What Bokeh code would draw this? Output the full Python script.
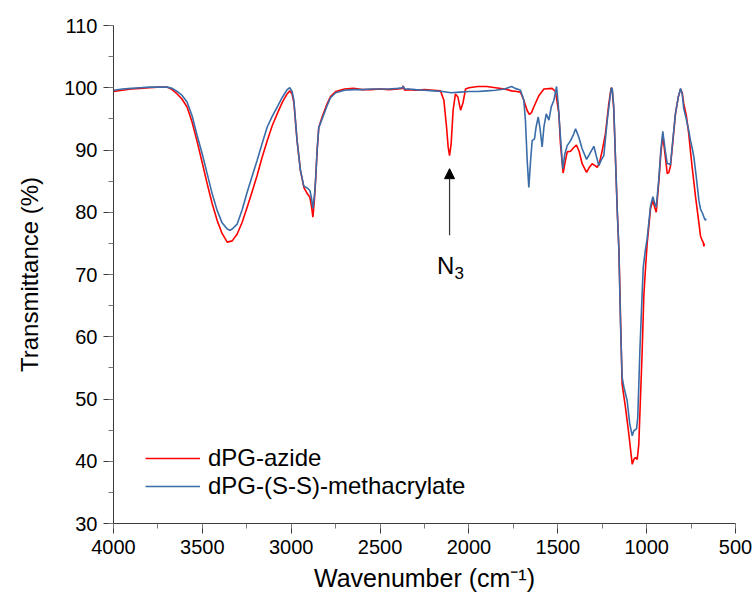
from bokeh.plotting import figure
from bokeh.models import Range1d, Legend, LegendItem, Arrow, NormalHead, Label, FixedTicker
from bokeh.embed import file_html
from bokeh.resources import INLINE

# ---------------- data ----------------
azide_wn = [4000, 3950, 3900, 3850, 3800, 3750, 3698, 3670, 3642, 3615, 3586, 3558, 3529, 3501,
            3473, 3445, 3417, 3389, 3360, 3332, 3304, 3276, 3248, 3220, 3192, 3164, 3135, 3107,
            3079, 3051, 3023, 3008, 2995, 2985, 2967, 2948, 2929, 2910, 2895, 2886, 2878, 2870,
            2863, 2854, 2845, 2826, 2800, 2779, 2750, 2700, 2650, 2600, 2550, 2500, 2450, 2400,
            2375, 2370, 2362, 2340, 2300, 2250, 2200, 2160, 2141, 2126, 2117, 2109, 2100, 2089,
            2076, 2062, 2047, 2034, 2019, 2000, 1950, 1900, 1850, 1800, 1760, 1730, 1710, 1691,
            1672, 1659, 1648, 1635, 1607, 1578, 1532, 1513, 1494, 1485, 1470, 1457, 1447, 1428,
            1410, 1395, 1380, 1363, 1338, 1325, 1307, 1290, 1278, 1265, 1250, 1232, 1213, 1200,
            1194, 1185, 1175, 1165, 1156, 1147, 1138, 1119, 1100, 1081, 1072, 1063, 1053, 1044,
            1035, 1025, 1016, 1006, 997, 978, 965, 955, 946, 931, 920, 909, 896, 884, 875, 866,
            852, 838, 822, 809, 800, 791, 777, 763, 753, 743, 734, 725, 715, 706, 697, 688, 682,
            678, 675]
azide_t = [99.4, 99.6, 99.8, 99.9, 100.0, 100.1, 100.1, 99.7, 99.0, 98.2, 96.9, 94.5, 91.3, 88.0,
           84.6, 81.4, 78.7, 76.6, 75.2, 75.4, 76.5, 78.4, 80.8, 83.3, 85.9, 88.8, 91.5, 93.9,
           95.8, 97.6, 99.0, 99.5, 99.0, 97.6, 91.5, 86.7, 84.0, 83.0, 82.4, 81.0, 79.2, 81.8,
           85.1, 90.0, 93.6, 95.3, 97.3, 98.6, 99.4, 99.8, 99.9, 99.7, 99.7, 99.8, 99.7, 99.8,
           99.9, 100.3, 99.6, 99.7, 99.6, 99.7, 99.6, 99.5, 98.0, 93.7, 90.5, 89.1, 91.0, 96.4,
           99.0, 98.5, 96.4, 97.5, 99.8, 100.0, 100.2, 100.2, 100.0, 99.8, 99.5, 99.4, 99.3, 98.0,
           96.3, 95.7, 96.0, 96.9, 98.7, 99.8, 99.9, 99.4, 95.9, 91.0, 86.3, 88.3, 89.7, 89.8,
           90.4, 90.8, 89.8, 87.8, 86.4, 87.1, 87.8, 87.5, 87.2, 88.0, 89.9, 92.6, 97.4, 100.0,
           99.8, 96.5, 88.3, 80.0, 73.9, 63.1, 52.4, 48.6, 44.3, 39.5, 40.3, 40.6, 40.3, 42.8,
           50.0, 57.8, 66.5, 71.2, 75.0, 80.6, 81.9, 80.8, 80.0, 85.1, 89.5, 92.3, 89.2, 86.2,
           86.4, 87.4, 91.5, 95.8, 98.5, 99.8, 99.2, 97.4, 95.6, 92.6, 89.7, 87.0, 84.8, 82.5,
           80.3, 78.3, 76.2, 75.5, 75.2, 74.5, 75.0]

methacrylate_wn = [4000, 3950, 3900, 3850, 3800, 3750, 3698, 3670, 3642, 3615, 3586, 3558, 3529,
                   3501, 3473, 3445, 3417, 3389, 3360, 3345, 3332, 3304, 3276, 3248, 3220, 3192,
                   3164, 3135, 3107, 3079, 3051, 3023, 3008, 2995, 2985, 2967, 2948, 2929, 2910,
                   2895, 2886, 2878, 2870, 2863, 2854, 2845, 2826, 2800, 2779, 2750, 2700, 2650,
                   2600, 2550, 2500, 2450, 2400, 2375, 2370, 2362, 2340, 2300, 2250, 2200, 2150,
                   2100, 2050, 2000, 1950, 1900, 1850, 1800, 1760, 1740, 1720, 1710, 1691, 1682,
                   1672, 1663, 1653, 1644, 1631, 1622, 1610, 1601, 1588, 1578, 1565, 1550, 1537,
                   1522, 1507, 1498, 1485, 1472, 1460, 1447, 1428, 1410, 1400, 1382, 1363, 1338,
                   1320, 1297, 1283, 1269, 1255, 1241, 1222, 1200, 1194, 1185, 1175, 1165, 1156,
                   1147, 1138, 1128, 1110, 1095, 1081, 1072, 1057, 1050, 1038, 1028, 1019, 1008,
                   997, 978, 965, 955, 946, 931, 920, 909, 896, 884, 875, 866, 852, 838, 822, 809,
                   800, 791, 777, 763, 753, 743, 734, 720, 706, 697, 685, 675, 669, 666]
methacrylate_t = [99.6, 99.8, 99.9, 100.0, 100.1, 100.1, 100.1, 99.9, 99.4, 98.8, 97.7, 95.5, 92.3,
                  89.4, 86.2, 83.0, 80.3, 78.3, 77.3, 77.1, 77.3, 78.1, 80.4, 83.2, 85.8, 88.3,
                  91.0, 93.7, 95.4, 96.9, 98.4, 99.7, 100.0, 99.4, 98.0, 91.5, 86.7, 84.2, 83.9,
                  83.5, 82.3, 80.6, 82.5, 85.1, 90.0, 93.6, 95.0, 97.0, 98.4, 99.2, 99.6, 99.7,
                  99.7, 99.8, 99.8, 99.8, 99.9, 100.0, 100.2, 99.8, 99.8, 99.7, 99.6, 99.5, 99.4,
                  99.2, 99.3, 99.4, 99.4, 99.5, 99.6, 99.8, 100.2, 99.9, 99.7, 99.6, 98.0, 94.7,
                  88.3, 84.0, 88.3, 91.5, 91.8, 93.7, 95.3, 93.7, 90.5, 93.7, 95.8, 94.8, 96.9,
                  98.0, 100.2, 97.5, 92.1, 87.0, 89.4, 90.7, 91.5, 92.6, 93.4, 92.1, 90.2, 88.5,
                  89.4, 90.6, 89.0, 87.5, 88.4, 89.1, 94.7, 99.8, 100.0, 97.0, 88.3, 80.0, 73.9,
                  62.0, 53.5, 51.9, 49.8, 46.0, 44.1, 44.9, 45.2, 47.0, 57.8, 65.0, 71.2, 73.8,
                  75.8, 81.0, 82.5, 81.5, 80.8, 85.5, 90.0, 93.0, 90.0, 87.8, 87.8, 87.6, 91.8,
                  95.8, 98.5, 99.9, 99.0, 96.6, 95.0, 93.1, 91.5, 90.2, 88.8, 85.5, 81.9, 80.5,
                  79.8, 79.0, 78.7, 79.0]

series_names = ["dPG-azide", "dPG-(S-S)-methacrylate"]
series_colors = ["#FF0000", "#3A6CA8"]

x_major = [4000, 3500, 3000, 2500, 2000, 1500, 1000, 500]
x_minor = list(range(500, 4001, 250))
y_major = [30, 40, 50, 60, 70, 80, 90, 100, 110]
y_minor = list(range(30, 111, 5))

# N3 annotation (arrow under the azide band)
n3_x = 2109
n3_arrow_from = 76.3
n3_arrow_to = 87.0
n3_text_y = 71.45
n3_sub_y = 70.3

FONT = "Liberation Sans"
AX = "#3c3c3c"

p = figure(width=752, height=600, output_backend="svg", toolbar_location=None,
           x_range=Range1d(4000, 500), y_range=Range1d(30, 110),
           min_border_left=113, min_border_right=17, min_border_top=25, min_border_bottom=77)
p.outline_line_color = None
p.grid.visible = False
p.background_fill_color = "white"
p.border_fill_color = "white"

p.xaxis.ticker = FixedTicker(ticks=x_major, minor_ticks=x_minor)
p.yaxis.ticker = FixedTicker(ticks=y_major, minor_ticks=y_minor)
p.xaxis.axis_label = "Wavenumber (cm\u207b\u00b9)"
p.yaxis.axis_label = "Transmittance (%)"
for ax in (p.xaxis, p.yaxis):
    ax.axis_label_text_font = FONT
    ax.axis_label_text_font_style = "normal"
    ax.axis_label_text_color = "black"
    ax.major_label_text_font = FONT
    ax.major_label_text_font_size = "20px"
    ax.major_label_text_color = "black"
    ax.axis_line_color = AX
    ax.major_tick_line_color = AX
    ax.minor_tick_line_color = "#777777"
    ax.major_tick_out = 10
    ax.major_tick_in = 0
    ax.minor_tick_out = 5
    ax.minor_tick_in = 0
p.xaxis.axis_label_text_font_size = "25px"
p.yaxis.axis_label_text_font_size = "24px"
p.xaxis.major_label_standoff = 6
p.yaxis.major_label_standoff = 6
p.xaxis.axis_label_standoff = 7
p.yaxis.axis_label_standoff = 18

r1 = p.line(azide_wn, azide_t, line_color=series_colors[0], line_width=1.6)
r2 = p.line(methacrylate_wn, methacrylate_t, line_color=series_colors[1], line_width=1.6)

legend = Legend(items=[LegendItem(label=series_names[0], renderers=[r1]),
                       LegendItem(label=series_names[1], renderers=[r2])],
                location=(32, 23), border_line_color=None, background_fill_alpha=0,
                padding=0, margin=0, spacing=0, glyph_width=55, glyph_height=22,
                label_height=22, label_standoff=8, label_text_font=FONT,
                label_text_font_size="24px", label_text_color="black")
p.add_layout(legend)

p.add_layout(Arrow(end=NormalHead(size=10, fill_color="black", line_color="black"),
                   x_start=n3_x, y_start=n3_arrow_from, x_end=n3_x, y_end=n3_arrow_to,
                   line_color="#333333", line_width=1.2))
p.add_layout(Label(x=n3_x, y=n3_text_y, x_offset=-4, text="N", text_align="center",
                   text_baseline="alphabetic", text_font=FONT, text_font_size="24px",
                   text_color="black"))
p.add_layout(Label(x=n3_x, y=n3_sub_y, x_offset=5, text="3", text_align="left",
                   text_baseline="alphabetic", text_font=FONT, text_font_size="17px",
                   text_color="black"))

open("out.html", "w").write(file_html(p, INLINE))
